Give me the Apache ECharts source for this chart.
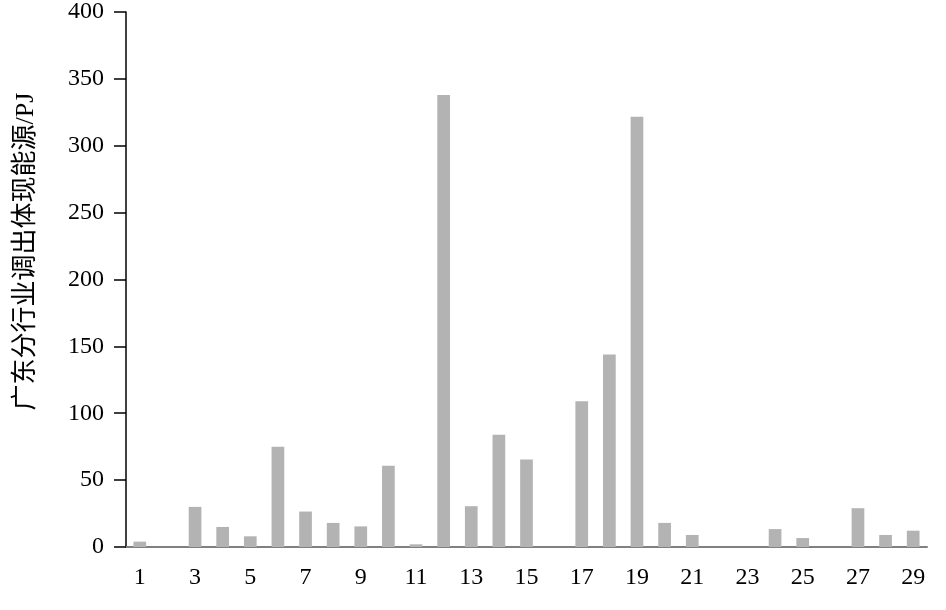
<!DOCTYPE html>
<html><head><meta charset="utf-8">
<script src="https://cdn.jsdelivr.net/npm/echarts@6/dist/echarts.min.js"></script>
<style>html,body{margin:0;padding:0;background:#fff}#c{width:946px;height:610px}</style>
</head><body><div id="c"></div>
<script>
var categories = ['1','2','3','4','5','6','7','8','9','10','11','12','13','14','15','16','17','18','19','20','21','22','23','24','25','26','27','28','29'];
var values = [4, 0, 30, 15, 8, 75, 26.5, 18, 15.4, 60.8, 2, 338, 30.5, 84, 65.5, 0, 109, 144, 321.6, 18, 9, 0, 0, 13.4, 6.7, 0, 29, 9, 12.2];
var yTicks = {min: 0, max: 400, interval: 50};
var yName = '广东分行业调出体现能源/PJ';
var font = "'Liberation Serif', 'Noto Sans CJK SC', serif";
var chart = echarts.init(document.getElementById('c'), null, {renderer: 'canvas'});
chart.setOption({
  animation: false,
  grid: {left: 126, right: 19, top: 10, bottom: 63, containLabel: false},
  xAxis: {
    type: 'category', data: categories,
    axisLine: {lineStyle: {color: '#808080', width: 2}},
    axisTick: {alignWithLabel: true, interval: 0, length: 12, lineStyle: {color: '#444', width: 1.5}},
    axisLabel: {interval: 1, margin: 19, color: '#000', fontSize: 24, fontFamily: font}
  },
  yAxis: {
    type: 'value', min: yTicks.min, max: yTicks.max, interval: yTicks.interval,
    name: yName, nameLocation: 'middle', nameGap: 87, nameRotate: 90,
    nameTextStyle: {color: '#000', fontSize: 26, fontFamily: font, padding: [0, 0, 0, 56]},
    axisLine: {show: true, lineStyle: {color: '#000', width: 1.5}},
    axisTick: {show: true, length: 12, lineStyle: {color: '#000', width: 1.5}},
    splitLine: {show: false},
    axisLabel: {margin: 22, color: '#000', fontSize: 24, fontFamily: font}
  },
  series: [{
    type: 'bar', data: values, barWidth: '46%',
    itemStyle: {color: '#b3b3b3'}
  }]
});
</script></body></html>
